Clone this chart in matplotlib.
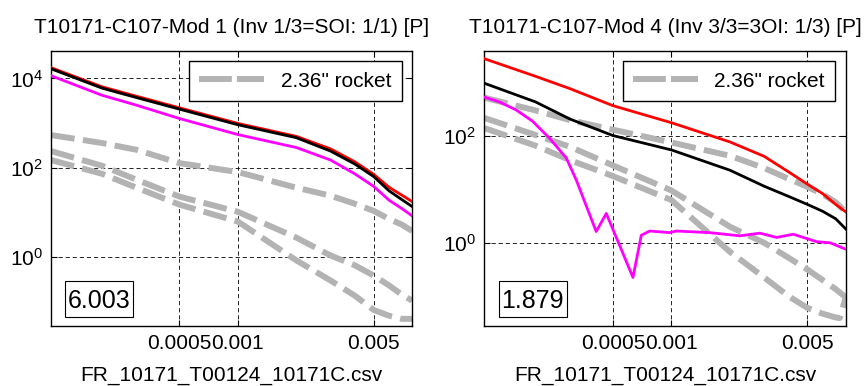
import numpy as np
import matplotlib
matplotlib.use('Agg')
import matplotlib.pyplot as plt
from matplotlib.patches import Rectangle
from matplotlib.ticker import FixedLocator, FixedFormatter, NullLocator, LogFormatterSciNotation

plt.rcParams['font.family'] = ['Liberation Sans', 'DejaVu Sans']
plt.rcParams['mathtext.fontset'] = 'custom'
plt.rcParams['mathtext.rm'] = 'Liberation Sans'
plt.rcParams['mathtext.it'] = 'Liberation Sans:italic'
plt.rcParams['mathtext.bf'] = 'Liberation Sans:bold'

# ---------------- data (log10 of y) ----------------
freq = [1.09e-4, 2e-4, 3e-4, 5e-4, 1e-3, 2e-3, 3e-3, 4e-3, 5e-3, 6e-3, 7e-3, 7.88e-3]

# left panel (Mod 1)
left_red_log10 = [4.24, 3.81, 3.60, 3.34, 2.99, 2.70, 2.42, 2.13, 1.85, 1.56, 1.38, 1.24]
left_black_log10 = [4.215, 3.78, 3.57, 3.31, 2.96, 2.67, 2.37, 2.08, 1.80, 1.48, 1.28, 1.13]
left_magenta_log10 = [4.06, 3.62, 3.40, 3.10, 2.74, 2.45, 2.17, 1.86, 1.58, 1.27, 1.08, 0.92]
left_rocket_a_log10 = [2.73, 2.55, 2.40, 2.10, 1.90, 1.55, 1.37, 1.19, 1.03, 0.85, 0.72, 0.58]
left_rocket_b_log10 = [2.37, 2.04, 1.73, 1.35, 1.01, 0.43, 0.03, -0.19, -0.42, -0.64, -0.85, -0.98]
left_rocket_c_log10 = [2.17, 1.86, 1.55, 1.17, 0.79, -0.08, -0.53, -0.87, -1.19, -1.32, -1.39, -1.39]

# right panel (Mod 4)
right_red_log10 = [3.45, 3.12, 2.89, 2.57, 2.25, 1.89, 1.62, 1.33, 1.10, 0.92, 0.72, 0.58]
right_black_log10 = [2.99, 2.64, 2.32, 2.01, 1.74, 1.36, 1.06, 0.87, 0.72, 0.59, 0.45, 0.26]
right_magenta_freq = [1.09e-4, 1.303e-4, 1.589e-4, 1.928e-4, 2.36e-4, 2.877e-4, 3.237e-4,
                      4.103e-4, 4.623e-4, 6.34e-4, 7.0e-4, 7.73e-4, 9.8e-4, 1.061e-3,
                      1.575e-3, 2.248e-3, 2.851e-3, 3.475e-3, 4.234e-3, 5.59e-3, 6.55e-3, 7.88e-3]
right_magenta_log10 = [2.73, 2.64, 2.49, 2.28, 1.96, 1.59, 1.18, 0.21, 0.55, -0.65, 0.14,
                       0.22, 0.19, 0.22, 0.19, 0.13, 0.18, 0.10, 0.16, 0.02, 0.00, -0.12]
right_rocket_d_log10 = [2.72, 2.48, 2.30, 2.12, 1.88, 1.63, 1.40, 1.20, 1.05, 0.91, 0.76, 0.58]
right_rocket_e_log10 = [2.34, 2.02, 1.80, 1.45, 0.98, 0.30, 0.00, -0.28, -0.50, -0.70, -0.87, -1.02]
right_rocket_f_freq = [1.09e-4, 2e-4, 3e-4, 5e-4, 1e-3, 2e-3, 3e-3, 4e-3, 5e-3, 6e-3, 7e-3, 7.35e-3, 7.88e-3]
right_rocket_f_log10 = [2.15, 1.82, 1.55, 1.25, 0.80, -0.17, -0.65, -1.00, -1.22, -1.33, -1.40, -1.41, -1.02]

titles = ["T10171-C107-Mod 1 (Inv 1/3=SOI: 1/1) [P]",
          "T10171-C107-Mod 4 (Inv 3/3=3OI: 1/3) [P]"]
box_values = ["6.003", "1.879"]
xlabel = "FR_10171_T00124_10171C.csv"
legend_label = '2.36" rocket'
xtick_values = [5e-4, 1e-3, 5e-3]
xtick_labels = ["0.0005", "0.001", "0.005"]
ytick_values = [1e0, 1e2, 1e4]
xlims = (1.09e-4, 7.88e-3)
ylims_left = (10 ** -1.55, 10 ** 4.62)
ylims_right = (10 ** -1.56, 10 ** 3.6)

GRAY = (0.70, 0.70, 0.70)
FS = 15

fig = plt.figure(figsize=(8.65, 3.86), dpi=100)
ax_l = fig.add_axes([51 / 865, 60 / 386, 361 / 865, 275.3 / 386])
ax_r = fig.add_axes([484.3 / 865, 60 / 386, 361.4 / 865, 275.3 / 386])


def rocket(ax, xs, ys, label=None):
    ax.plot(xs, 10 ** np.asarray(ys), color=GRAY, lw=4.3, dashes=(4.0, 1.4),
            dash_capstyle='butt', solid_capstyle='butt', label=label, zorder=2)


def style(ax, title, ylims, boxtext):
    ax.set_xscale('log')
    ax.set_yscale('log')
    ax.set_xlim(*xlims)
    ax.set_ylim(*ylims)
    ax.xaxis.set_major_locator(FixedLocator(xtick_values))
    ax.xaxis.set_major_formatter(FixedFormatter(xtick_labels))
    ax.xaxis.set_minor_locator(NullLocator())
    ax.yaxis.set_major_locator(FixedLocator(ytick_values))
    ax.yaxis.set_major_formatter(LogFormatterSciNotation())
    ax.yaxis.set_minor_locator(NullLocator())
    ax.tick_params(direction='in', length=4, width=0.8, labelsize=FS,
                   top=True, right=True, pad=6, color='black')
    ax.grid(True, which='major', color='black', linestyle=(0, (5, 3.5)), linewidth=0.6)
    ax.set_axisbelow(True)
    for s in ax.spines.values():
        s.set_linewidth(1.0)
        s.set_color('black')
    ax.set_title(title, fontsize=FS, pad=13)
    ax.set_xlabel(xlabel, fontsize=FS, labelpad=9)
    leg = ax.legend(loc='upper right', fontsize=FS, fancybox=False, framealpha=1,
                    edgecolor='black', borderpad=0.5, handlelength=3.1,
                    handletextpad=0.8, borderaxespad=0.5)
    leg.get_frame().set_linewidth(1.0)
    for ln in leg.get_lines():
        ln.set_dashes((5.5, 0.85))
    # value box in the lower-left corner
    ax.add_patch(Rectangle((0.040, 0.034), 0.188, 0.131, transform=ax.transAxes,
                           facecolor='white', edgecolor='black', linewidth=0.8, zorder=5))
    ax.text(0.040 + 0.094, 0.034 + 0.0655, boxtext, transform=ax.transAxes, fontsize=18,
            ha='center', va='center_baseline', zorder=6)


# left panel
rocket(ax_l, freq, left_rocket_a_log10, legend_label)
rocket(ax_l, freq, left_rocket_b_log10)
rocket(ax_l, freq, left_rocket_c_log10)
ax_l.plot(freq, 10 ** np.asarray(left_red_log10), color='red', lw=2, zorder=3)
ax_l.plot(freq, 10 ** np.asarray(left_black_log10), color='black', lw=2, zorder=3)
ax_l.plot(freq, 10 ** np.asarray(left_magenta_log10), color='magenta', lw=2, zorder=3)
style(ax_l, titles[0], ylims_left, box_values[0])

# right panel
rocket(ax_r, freq, right_rocket_d_log10, legend_label)
rocket(ax_r, freq, right_rocket_e_log10)
rocket(ax_r, right_rocket_f_freq, right_rocket_f_log10)
ax_r.plot(freq, 10 ** np.asarray(right_red_log10), color='red', lw=2, zorder=3)
ax_r.plot(freq, 10 ** np.asarray(right_black_log10), color='black', lw=2, zorder=3)
ax_r.plot(right_magenta_freq, 10 ** np.asarray(right_magenta_log10), color='magenta', lw=2, zorder=3)
style(ax_r, titles[1], ylims_right, box_values[1])

fig.savefig('out.png', dpi=100, facecolor='white')
